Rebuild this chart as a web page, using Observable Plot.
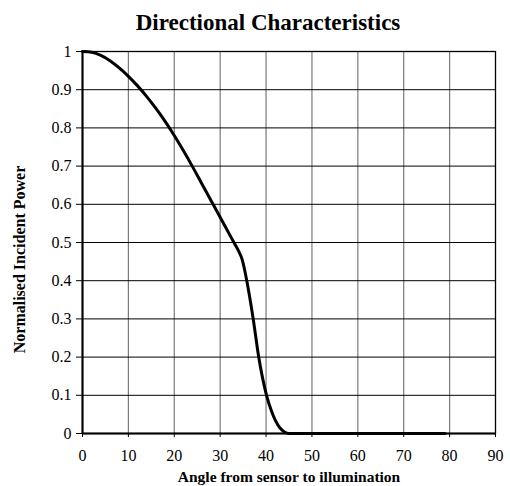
<!DOCTYPE html>
<html>
<head>
<meta charset="utf-8">
<script src="https://cdn.jsdelivr.net/npm/d3@7"></script>
<script src="https://cdn.jsdelivr.net/npm/@observablehq/plot@0.6"></script>
<style>
  html, body { margin: 0; padding: 0; background: #fff; }
  #chart { width: 510px; height: 486px; }
  #chart svg { font-family: "Liberation Serif", "Times New Roman", serif; }
</style>
</head>
<body>
<div id="chart"></div>
<script>
const title = "Directional Characteristics";
const xLabel = "Angle from sensor to illumination";
const yLabel = "Normalised Incident Power";

const angles = [0, 2, 4, 6, 8, 10, 12, 14, 16, 18, 20, 22, 24, 26, 28, 30, 32, 33, 34, 34.8, 35.3, 35.8, 37.2, 38.4, 40.1, 41.3, 42, 43, 44, 45, 46, 79];
const power  = [1.0, 0.998, 0.99, 0.976, 0.957, 0.935, 0.91, 0.882, 0.851, 0.817, 0.78, 0.74, 0.698, 0.654, 0.61, 0.566, 0.522, 0.50, 0.478, 0.455, 0.43, 0.40, 0.30, 0.20, 0.10, 0.055, 0.035, 0.015, 0.004, 0, 0, 0];

const xTicks = [0, 10, 20, 30, 40, 50, 60, 70, 80, 90];
const xTickLabels = ["0", "10", "20", "30", "40", "50", "60", "70", "80", "90"];
const yTicks = [0, 0.1, 0.2, 0.3, 0.4, 0.5, 0.6, 0.7, 0.8, 0.9, 1];
const yTickLabels = ["0", "0.1", "0.2", "0.3", "0.4", "0.5", "0.6", "0.7", "0.8", "0.9", "1"];

const data = angles.map((a, i) => ({angle: a, power: power[i]}));
const serif = "'Liberation Serif', 'Times New Roman', serif";

const chart = Plot.plot({
  width: 510,
  height: 486,
  marginLeft: 82,
  marginRight: 15,
  marginTop: 51,
  marginBottom: 53,
  style: {fontFamily: serif, fontSize: "16px", color: "#000", background: "#fff", overflow: "visible"},
  x: {domain: [0, 90], ticks: xTicks, label: null},
  y: {domain: [0, 1], ticks: yTicks, label: null},
  marks: [
    Plot.ruleX(xTicks.slice(1, -1), {stroke: "#7a7a7a", strokeWidth: 1.2}),
    Plot.ruleY(yTicks.slice(1, -1), {stroke: "#000", strokeWidth: 1}),
    Plot.frame({stroke: "#000", strokeWidth: 1.3}),
    Plot.ruleX([0], {stroke: "#000", strokeWidth: 2}),
    Plot.ruleY([0], {stroke: "#000", strokeWidth: 2}),
    Plot.axisY({ticks: yTicks, tickSize: 6, tickFormat: () => "", label: null, stroke: "#000"}),
    Plot.axisX({ticks: xTicks, tickSize: 4, tickFormat: () => "", label: null, stroke: "#000"}),
    Plot.text(yTicks, {frameAnchor: "left", y: d => d, text: (d, i) => yTickLabels[i], dx: -11, textAnchor: "end", lineAnchor: "middle", fontSize: 16, fontFamily: serif, fill: "#000"}),
    Plot.text(xTicks, {frameAnchor: "bottom", x: d => d, text: (d, i) => xTickLabels[i], dy: 16, textAnchor: "middle", lineAnchor: "top", fontSize: 16, fontFamily: serif, fill: "#000"}),
    Plot.line(data, {x: "angle", y: "power", stroke: "#000", strokeWidth: 3, curve: "monotone-x"}),
    Plot.text([title], {frameAnchor: "top", dx: -21, dy: -29, lineAnchor: "middle", textAnchor: "middle", fontSize: 23, fontWeight: "bold", fontFamily: serif, fill: "#000"}),
    Plot.text([xLabel], {frameAnchor: "bottom", dy: 44, lineAnchor: "middle", textAnchor: "middle", fontSize: 15.5, fontWeight: "bold", fontFamily: serif, fill: "#000"}),
    Plot.text([yLabel], {frameAnchor: "left", dx: -63, dy: 17, rotate: -90, textAnchor: "middle", lineAnchor: "middle", fontSize: 16, fontWeight: "bold", fontFamily: serif, fill: "#000"})
  ]
});
document.getElementById("chart").appendChild(chart);
</script>
</body>
</html>
